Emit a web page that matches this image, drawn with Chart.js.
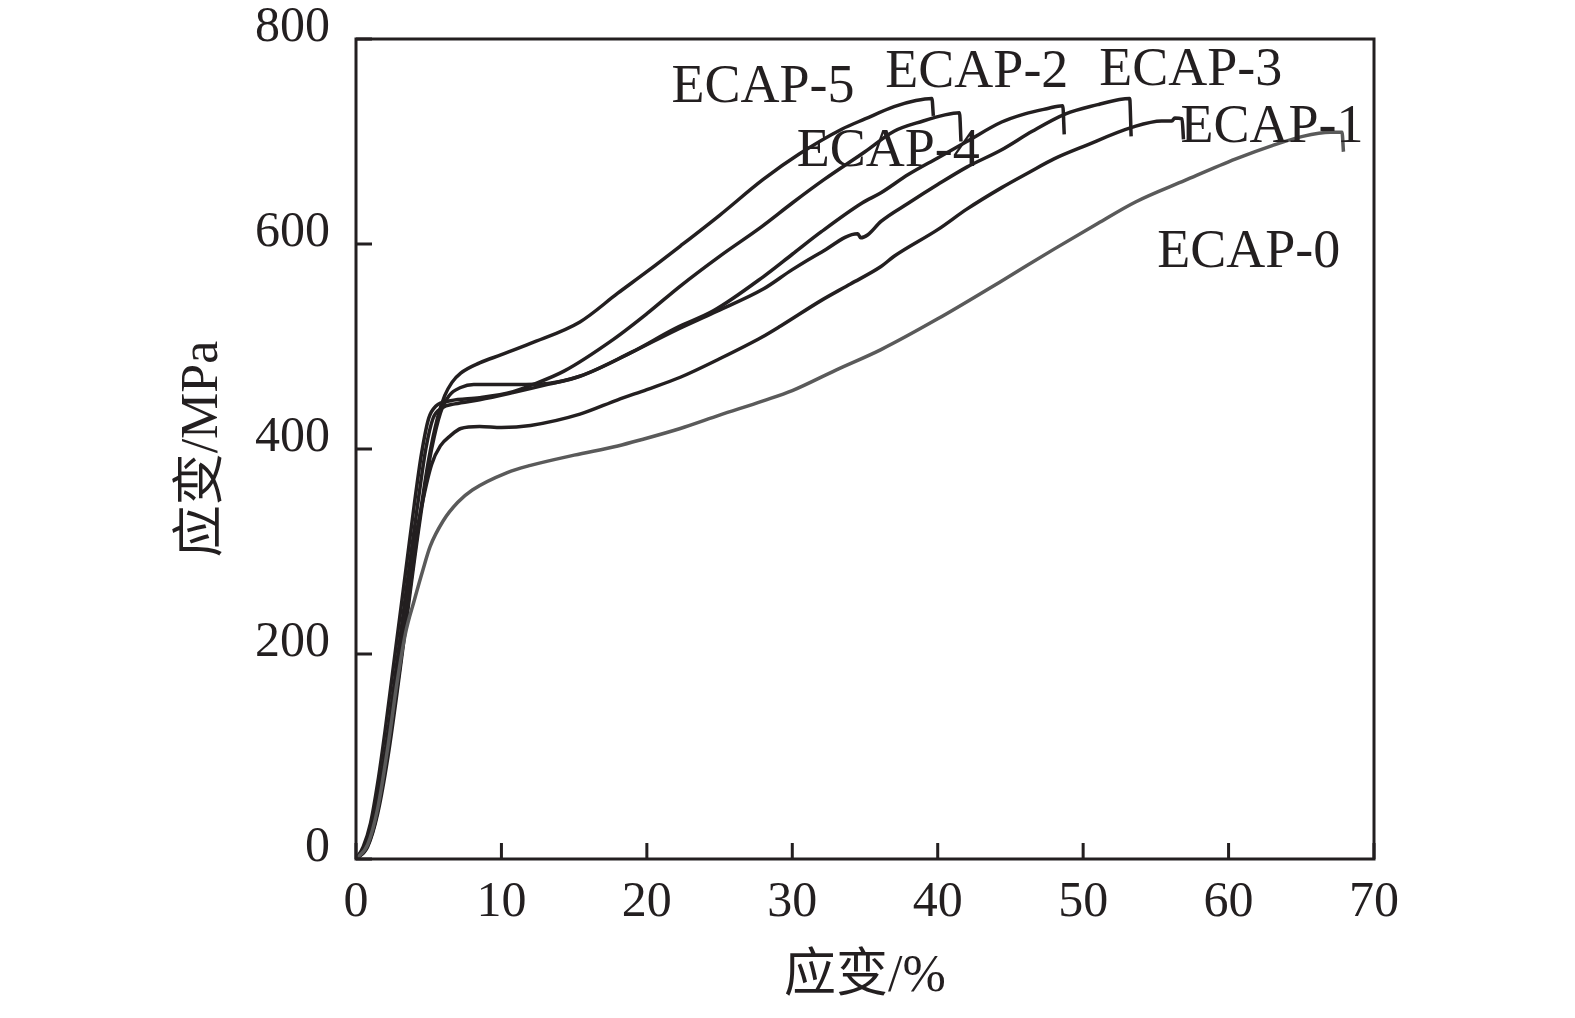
<!DOCTYPE html>
<html>
<head>
<meta charset="utf-8">
<script src="https://cdn.jsdelivr.net/npm/chart.js@4.4.1/dist/chart.umd.min.js"></script>
<style>
  body { margin: 0; background: #fff; }
  #wrap { width: 1575px; height: 1018px; }
</style>
</head>
<body>
<div id="wrap"><canvas id="chart"></canvas></div>
<script>
// Courbes contrainte-déformation
const ecap0Strain = [0, 0.8, 1.5, 2.2, 2.8, 3.4, 4, 4.6, 5.1, 6, 7, 8, 10.4, 12, 15, 18, 19.6, 22.3, 25, 28, 30, 33, 36.1, 40, 44.4, 48, 51, 53.6, 57, 60.5, 63, 65.1, 67, 67.8, 67.9];
const ecap0Stress = [0, 14, 50, 110, 170, 220, 252, 282, 305, 330, 348, 360, 377, 384, 394, 403, 409, 420, 433, 447, 457, 477, 497, 527, 564, 595, 620, 641, 662, 683, 696, 705, 709, 709, 690];

const ecap1Strain = [0, 0.7, 1.3, 1.9, 2.5, 3, 3.5, 4, 4.6, 5.2, 5.8, 6.5, 7.2, 8.5, 10, 12, 15.4, 18, 20, 22.3, 25, 27.9, 29.2, 32, 34, 36.1, 37, 40, 42, 44.4, 46.3, 48, 50, 53.4, 55.4, 56.1, 56.3, 56.8, 56.9];
const ecap1Stress = [0, 14, 45, 90, 145, 200, 255, 305, 350, 385, 403, 413, 420, 422, 421, 423, 434, 448, 458, 470, 488, 509, 520, 545, 561, 578, 588, 614, 634, 655, 670, 683, 695, 714, 720, 720, 723, 722, 702];

const ecap2Strain = [0, 0.8, 1.5, 2.2, 2.8, 3.4, 4, 4.6, 5.2, 5.8, 6.4, 7.2, 8.1, 9, 11, 13.2, 15.4, 18.9, 22, 24.6, 28, 30, 32, 34.8, 36.1, 38, 40, 42, 44.4, 46, 47.5, 48.6, 48.7];
const ecap2Stress = [0, 12, 45, 100, 160, 225, 290, 350, 400, 435, 452, 460, 463, 463, 463, 464, 471, 494, 518, 535, 568, 590, 612, 640, 650, 668, 684, 700, 719, 727, 732, 735, 707];

const ecap3Strain = [0, 0.6, 1.2, 1.8, 2.3, 2.8, 3.3, 3.8, 4.3, 4.8, 5.3, 5.9, 6.8, 8.5, 10.8, 13.2, 15.4, 18.9, 22, 24.6, 28, 30, 32, 34.5, 34.7, 35.2, 36.1, 38, 40, 42, 44.4, 46.5, 48.8, 51, 52.5, 53.2, 53.3];
const ecap3Stress = [0, 12, 40, 85, 135, 190, 245, 300, 352, 400, 430, 440, 444, 448, 455, 463, 471, 494, 516, 533, 556, 575, 592, 610, 606, 609, 622, 640, 658, 675, 692, 710, 727, 736, 741, 742, 705];

const ecap4Strain = [0, 0.5, 1, 1.5, 2, 2.5, 3, 3.5, 4, 4.5, 5, 5.5, 6.5, 8.5, 10.8, 12, 14.3, 17.7, 20, 22.3, 25, 27.9, 30, 32.2, 35, 37, 39, 40.5, 41.5, 41.6];
const ecap4Stress = [0, 12, 35, 75, 125, 180, 235, 290, 345, 395, 430, 442, 447, 450, 456, 462, 476, 507, 532, 559, 588, 617, 640, 663, 690, 710, 720, 726, 728, 700];

const ecap5Strain = [0, 0.7, 1.3, 1.9, 2.5, 3, 3.5, 4, 4.5, 5, 5.6, 6.1, 6.6, 7.2, 8.5, 10, 12, 15.4, 18, 20, 22.3, 25, 28, 30.5, 33.4, 35, 37, 38.5, 39.6, 39.7];
const ecap5Stress = [0, 10, 35, 80, 135, 185, 240, 295, 345, 390, 430, 452, 465, 474, 484, 492, 503, 524, 552, 573, 598, 628, 663, 688, 712, 722, 734, 740, 742, 725];

// Étiquettes des courbes (position en coordonnées données, bord gauche)
const labelText = ['ECAP-5', 'ECAP-2', 'ECAP-3', 'ECAP-4', 'ECAP-1', 'ECAP-0'];
const labelStrain = [21.7, 36.4, 51.1, 30.3, 56.7, 55.1];
const labelStress = [752, 767, 769, 690, 713, 591];

const xTitle = '应变/%';
const yTitle = '应变/MPa';

const INK = '#231f20';
const GREY = '#5a5a5a';
const FONT = "'Liberation Serif', 'Times New Roman', 'Noto Sans CJK SC', serif";

function toPoints(xs, ys) {
    return xs.map((x, i) => ({ x: x, y: ys[i] }));
}

function series(label, xs, ys, color) {
    return {
        label: label,
        data: toPoints(xs, ys),
        borderColor: color,
        borderWidth: 3.5,
        pointRadius: 0,
        fill: false,
        cubicInterpolationMode: 'monotone'
    };
}

const datasets = [
    series('ECAP-0', ecap0Strain, ecap0Stress, GREY),
    series('ECAP-1', ecap1Strain, ecap1Stress, INK),
    series('ECAP-2', ecap2Strain, ecap2Stress, INK),
    series('ECAP-3', ecap3Strain, ecap3Stress, INK),
    series('ECAP-4', ecap4Strain, ecap4Stress, INK),
    series('ECAP-5', ecap5Strain, ecap5Stress, INK)
];

// Cadre, graduations vers l'intérieur et étiquettes
const framePlugin = {
    id: 'frame',
    afterDraw(chart) {
        const { ctx, chartArea: a, scales: { x, y } } = chart;
        ctx.save();
        ctx.strokeStyle = INK;
        ctx.lineWidth = 3;
        ctx.strokeRect(a.left, a.top, a.right - a.left, a.bottom - a.top);

        ctx.beginPath();
        x.ticks.forEach(t => {
            const px = x.getPixelForValue(t.value);
            ctx.moveTo(px, a.bottom);
            ctx.lineTo(px, a.bottom - 16);
        });
        y.ticks.forEach(t => {
            const py = y.getPixelForValue(t.value);
            ctx.moveTo(a.left, py);
            ctx.lineTo(a.left + 16, py);
        });
        ctx.stroke();

        ctx.fillStyle = INK;
        ctx.font = '54px ' + FONT;
        ctx.textAlign = 'left';
        ctx.textBaseline = 'middle';
        labelText.forEach((txt, i) => {
            ctx.fillText(txt, x.getPixelForValue(labelStrain[i]), y.getPixelForValue(labelStress[i]));
        });
        ctx.restore();
    }
};

const ctx = document.getElementById('chart').getContext('2d');
new Chart(ctx, {
    type: 'line',
    data: { datasets: datasets },
    options: {
        responsive: true,
        maintainAspectRatio: false,
        animation: false,
        layout: { padding: { top: 39, right: 201, left: 0, bottom: 0 } },
        plugins: {
            legend: { display: false },
            tooltip: { enabled: false }
        },
        scales: {
            x: {
                type: 'linear',
                min: 0,
                max: 70,
                grid: { display: false, drawTicks: false },
                border: { display: false },
                ticks: { stepSize: 10, padding: 14, color: INK, font: { family: FONT, size: 50 } },
                title: {
                    display: true,
                    text: xTitle,
                    color: INK,
                    font: { family: FONT, size: 52 },
                    padding: { top: 0, bottom: 9 }
                },
                afterFit: s => {
                    s.height = 159;
                    s.paddingLeft = 0;
                    s.paddingRight = 0;
                }
            },
            y: {
                type: 'linear',
                min: 0,
                max: 800,
                grid: { display: false, drawTicks: false },
                border: { display: false },
                ticks: { stepSize: 200, padding: 26, labelOffset: -11, color: INK, font: { family: FONT, size: 50 } },
                title: {
                    display: true,
                    text: yTitle,
                    color: INK,
                    font: { family: FONT, size: 52 },
                    padding: { top: 172, bottom: 0 }
                },
                afterFit: s => {
                    s.width = 356;
                    s.paddingTop = 0;
                    s.paddingBottom = 0;
                }
            }
        }
    },
    plugins: [framePlugin]
});
</script>
</body>
</html>
